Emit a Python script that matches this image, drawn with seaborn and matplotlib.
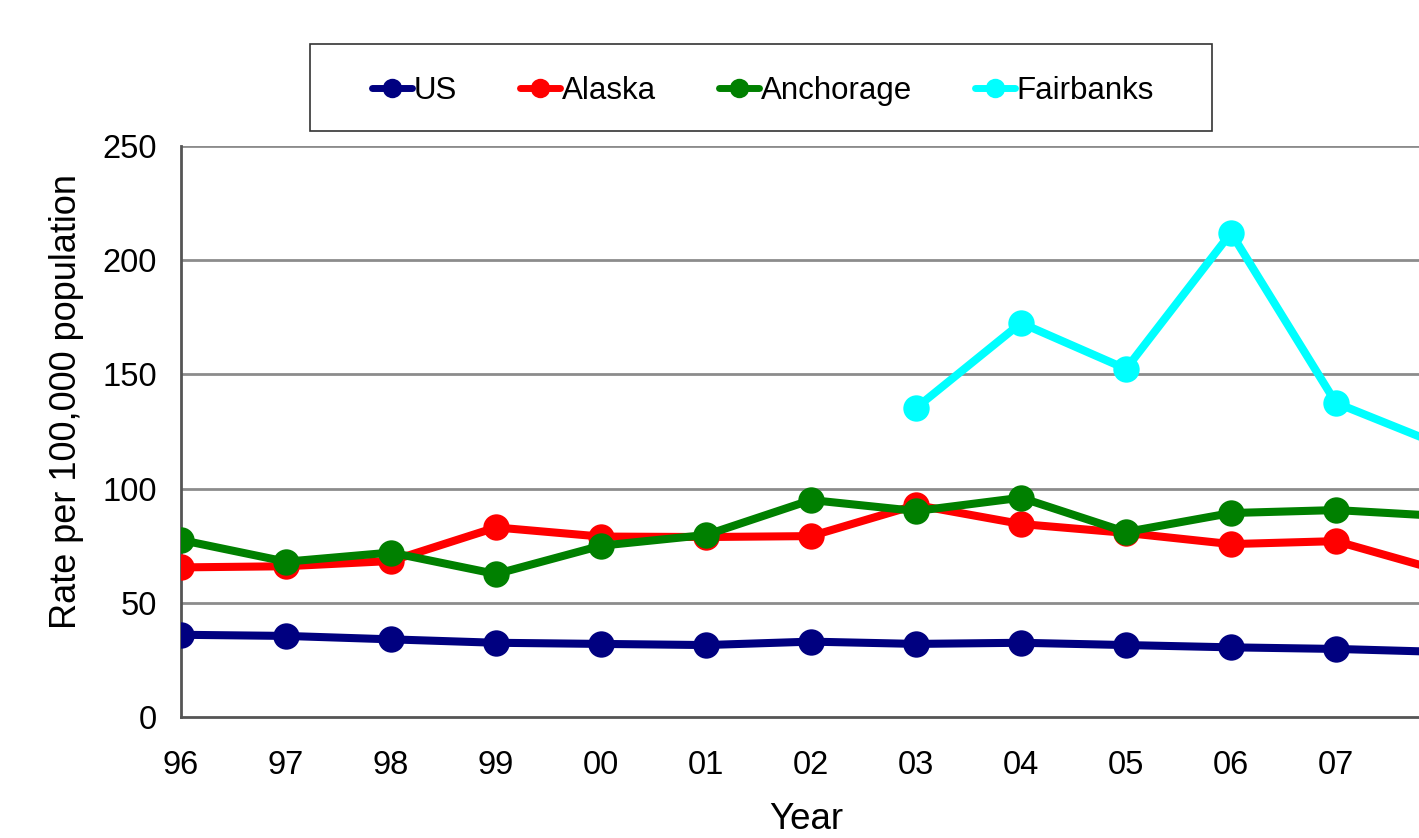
import pandas as pd; import numpy as np; import matplotlib.pyplot as plt; import seaborn as sns
from matplotlib.patches import Rectangle

years = ['96', '97', '98', '99', '00', '01', '02', '03', '04', '05', '06', '07']
us = [36, 35.5, 34, 32.5, 32, 31.5, 33, 32, 32.5, 31.5, 30.5, 29.8, 28.5]
alaska = [65.5, 66, 68.3, 83, 79, 78.8, 79.2, 92.8, 84.5, 80.6, 75.7, 77, 64]
anchorage = [77.5, 68, 72, 62.6, 75, 79.7, 95, 90.2, 96, 81, 89.3, 90.6, 88]
fairbanks = [np.nan] * 7 + [135.3, 172.5, 152.4, 212, 137.5, 119]

series = {'US': us, 'Alaska': alaska, 'Anchorage': anchorage, 'Fairbanks': fairbanks}
colors = {'US': '#000080', 'Alaska': '#ff0000', 'Anchorage': '#008000', 'Fairbanks': '#00ffff'}

rows = []
for name, vals in series.items():
    for i, v in enumerate(vals):
        rows.append({'x': i, 'rate': v, 'area': name})
df = pd.DataFrame(rows)

sns.set_style('white')
plt.rcParams['font.family'] = ['Liberation Sans', 'DejaVu Sans']

fig = plt.figure(figsize=(14.19, 8.38), dpi=100)
ax = fig.add_axes([181 / 1419, 121 / 838, 1260 / 1419, 571 / 838])

sns.lineplot(ax=ax, data=df, x='x', y='rate', hue='area', palette=colors,
             marker='o', markersize=19, markeredgewidth=0, linewidth=5.8,
             legend=False, zorder=3)

ax.set_xlim(0, 12)
ax.set_ylim(0, 250)
ax.set_xticks(range(len(years)))
ax.set_xticklabels(years)
ax.set_yticks([0, 50, 100, 150, 200, 250])
for y in [50, 100, 150, 200, 250]:
    ax.axhline(y, color='#8c8c8c', linewidth=2, zorder=1)
for s in ['top', 'right']:
    ax.spines[s].set_visible(False)
for s in ['left', 'bottom']:
    ax.spines[s].set_color('#555555'); ax.spines[s].set_linewidth(2)
ax.tick_params(axis='both', which='major', labelsize=23.5, colors='#555555',
               labelcolor='black', length=8, width=1.5, direction='out')
ax.tick_params(axis='x', pad=16)
ax.tick_params(axis='y', pad=9.5)
ax.set_xlabel('Year', fontsize=26.5, color='black')
ax.set_ylabel('Rate per 100,000 population', fontsize=26, color='black')
ax.xaxis.set_label_coords(0.496, -0.148)
ax.yaxis.set_label_coords(-0.077, 0.552)

handles = [plt.Line2D([], [], color=colors[n], marker='o', markersize=14,
                      markeredgewidth=0, linewidth=5) for n in series]
fig.legend(handles, list(series), loc='center', bbox_to_anchor=(763 / 1419, 1 - 91 / 838),
           ncol=4, frameon=False, fontsize=22.5, handlelength=1.3, handletextpad=0.05,
           columnspacing=2.0, labelcolor='black')
fig.patches.append(Rectangle((310 / 1419, 1 - 131 / 838), 902 / 1419, 87 / 838,
                             transform=fig.transFigure, fill=False, edgecolor='#333333',
                             linewidth=1.2))

plt.savefig('out.png', dpi=100)
